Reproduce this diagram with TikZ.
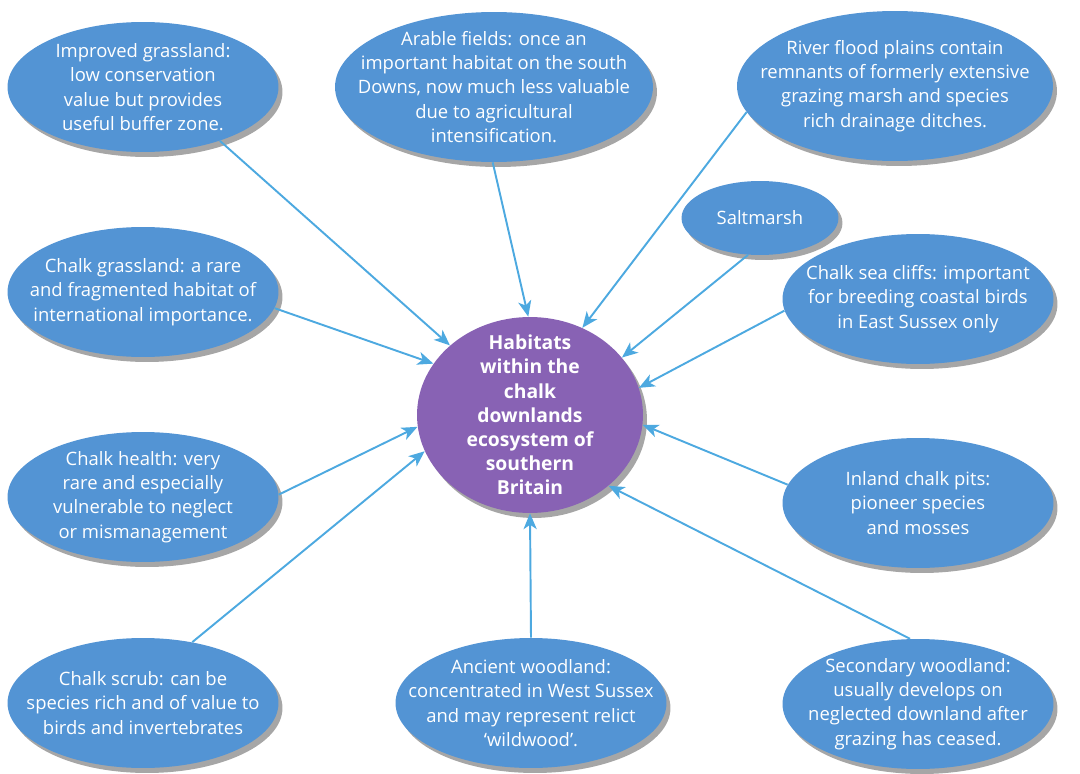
\documentclass[tikz,border=0pt]{standalone}
\usepackage{fontspec}
\setmainfont{Open Sans}
\usepackage{tikz}
\usetikzlibrary{shapes.geometric, arrows.meta, shadows}
\definecolor{habblue}{HTML}{5394D4}
\definecolor{habpurple}{HTML}{8862B4}
\definecolor{arrowcol}{HTML}{4DA9E0}
\definecolor{shadowgrey}{HTML}{A6A6A6}

\begin{document}
\begin{tikzpicture}[x=0.02cm, y=-0.02cm,
  habitat/.style={ellipse, fill=habblue, inner sep=-1cm, align=center,
                  minimum width=5.42cm, minimum height=2.6cm,
                  text=white, font=\fontsize{10.5}{13.8}\selectfont,
                  drop shadow={shadow xshift=0.08cm, shadow yshift=-0.1cm,
                               fill=shadowgrey, opacity=1}},
  hub/.style={habitat, fill=habpurple, font=\fontsize{11}{13.8}\selectfont\bfseries},
  link/.style={-{Stealth[length=9pt, width=7.5pt, inset=2.5pt]}, arrowcol, line width=1.1pt},
]
  \useasboundingbox (0,0) rectangle (1080,774);

  \node[hub, minimum width=4.52cm, minimum height=3.92cm] (core) at (530,415)
    {Habitats\\within the\\chalk\\downlands\\ecosystem of\\southern\\Britain};

  % top row
  \node[habitat] (improved) at (143,87)
    {Improved grassland:\\low conservation\\value but provides\\useful buffer zone.};
  \node[habitat, minimum width=6.36cm, minimum height=3cm] (arable) at (494,87)
    {Arable fields: once an\\important habitat on the south\\Downs, now much less valuable\\due to agricultural\\intensification.};
  \node[habitat, minimum width=6.32cm, minimum height=3cm] (flood) at (895,86)
    {River flood plains contain\\remnants of formerly extensive\\grazing marsh and species\\rich drainage ditches.};
  \node[habitat, minimum width=3.14cm, minimum height=1.48cm] (saltmarsh) at (760,218)
    {Saltmarsh};

  % sides
  \node[habitat] (cliffs) at (918,299)
    {Chalk sea cliffs: important\\for breeding coastal birds\\in East Sussex only};
  \node[habitat] (grassland) at (143,292)
    {Chalk grassland: a rare\\and fragmented habitat of\\international importance.};
  \node[habitat] (heath) at (143,497)
    {Chalk health: very\\rare and especially\\vulnerable to neglect\\or mismanagement};
  \node[habitat] (pits) at (918,503)
    {Inland chalk pits:\\pioneer species\\and mosses};

  % bottom row
  \node[habitat] (scrub) at (143,703)
    {Chalk scrub: can be\\species rich and of value to\\birds and invertebrates};
  \node[habitat] (ancient) at (531,703)
    {Ancient woodland:\\concentrated in West Sussex\\and may represent relict\\‘wildwood’.};
  \node[habitat] (secondary) at (918,704)
    {Secondary woodland:\\usually develops on\\neglected downland after\\grazing has ceased.};

  \foreach \from/\out/\in in {improved/-35/139, arable/-91/91, flood/190/59,
      saltmarsh/252/32, cliffs/185/14, grassland/-7/152, heath/1/186,
      pits/172/-5, scrub/51/199, ancient/90/-90, secondary/97/-42} {
    \draw[link] (\from.\out) -- (core.\in);
  }
\end{tikzpicture}
\end{document}
